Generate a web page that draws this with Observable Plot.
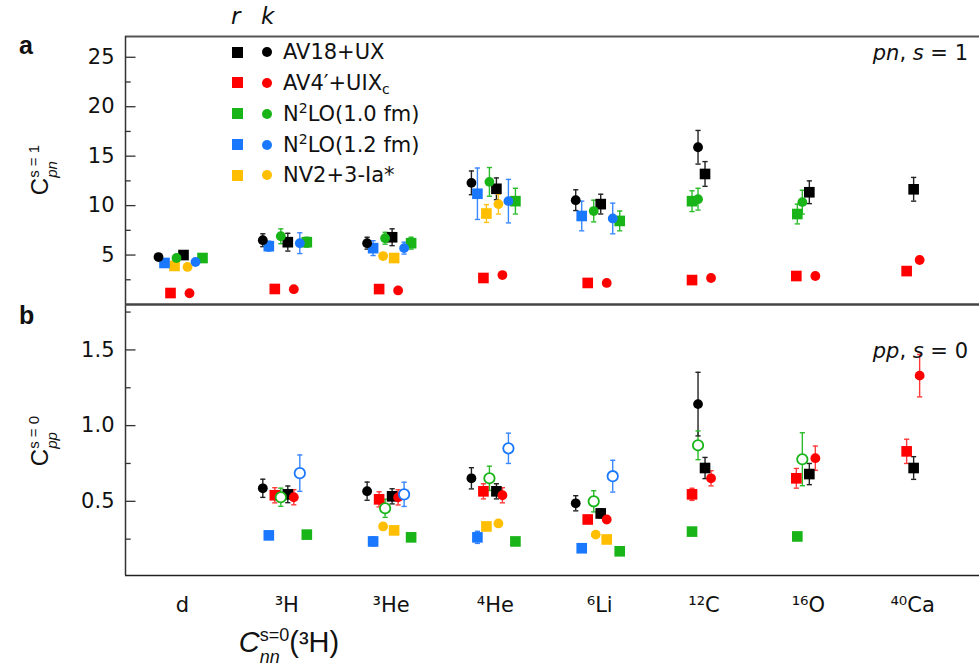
<!DOCTYPE html>
<html><head><meta charset="utf-8">
<script src="https://cdn.jsdelivr.net/npm/d3@7"></script>
<script src="https://cdn.jsdelivr.net/npm/@observablehq/plot@0.6"></script>
<style>
body{margin:0;background:#fff;}
#fig{position:relative;width:979px;height:669px;overflow:hidden;font-family:"DejaVu Sans","Liberation Sans",Arial,sans-serif;color:#111;background:#fff;}
#fig svg{position:absolute;left:0;}
.abs{position:absolute;white-space:nowrap;line-height:1;}
.panel{font-weight:bold;font-size:25px;font-family:"Liberation Sans",Arial,sans-serif;}
.hdr{font-style:italic;font-size:23px;}
.leg{font-size:21px;}
.leg sub{font-size:14px;vertical-align:-4px;line-height:0;}
.leg sup{font-size:14px;vertical-align:8px;line-height:0;}
.sq{position:absolute;width:11px;height:11px;}
.ci{position:absolute;width:10px;height:10px;border-radius:50%;}
.ylab{font-size:24px;font-family:"Liberation Sans",Arial,sans-serif;transform:translate(-50%,-50%) rotate(-90deg);}
.stk{position:relative;display:inline-block;}
.stk .sp{position:relative;top:-9px;font-size:15px;}
.stk .sb{position:absolute;left:0;top:16px;font-size:15px;font-style:italic;}
.cap{font-size:29px;transform:translate(-50%,-50%);font-family:"Liberation Sans",Arial,sans-serif;}
.cap .stk .sp{font-size:18px;top:-11px;}
.cap .stk .sb{font-size:18px;top:20px;}
.note{font-size:21px;}
</style></head><body><div id="fig"></div><script>
// ---------------- data ----------------
const nuclei = ["d", "³H", "³He", "⁴He", "⁶Li", "¹²C", "¹⁶O", "⁴⁰Ca"];
const seriesKeys = ["AV18", "AV4", "N10", "N12", "NV2"];
const legendLabels = ["AV18+UX", "AV4′+UIX<sub>c</sub>", "N<sup>2</sup>LO(1.0 fm)", "N<sup>2</sup>LO(1.2 fm)", "NV2+3-Ia*"];
const pnTicks = [5, 10, 15, 20, 25];
const pnMinor = [2.5, 7.5, 12.5, 17.5, 22.5];
const ppTicks = [0.5, 1.0, 1.5];
const ppMinor = [0.25, 0.75, 1.25, 1.75];

// Panel a: C_pn^{s=1}   (r = square, k = circle)
const pnAV18r = [5.0, 6.3, 6.8, 11.7, 10.15, 13.2, 11.35, 11.65];
const pnAV18rErr = [0, 0.9, 0.85, 1.1, 1.0, 1.25, 1.15, 1.2];
const pnAV18k = [4.8, 6.5, 6.2, 12.3, 10.55, 15.9, null, null];
const pnAV18kErr = [0, 0.65, 0.6, 1.2, 1.05, 1.7, 0, 0];
const pnAV4r = [1.16, 1.57, 1.56, 2.68, 2.18, 2.47, 2.88, 3.38];
const pnAV4k = [1.14, 1.55, 1.42, 2.98, 2.18, 2.68, 2.88, 4.5];
const pnN10r = [4.7, 6.3, 6.2, 10.45, 8.45, 10.45, 9.15, null];
const pnN10rErr = [0, 0.5, 0.6, 1.3, 1.0, 1.05, 1.0, 0];
const pnN10k = [4.7, 6.9, 6.7, 12.4, 9.45, 10.65, 10.35, null];
const pnN10kErr = [0, 0.75, 0.6, 1.45, 1.1, 1.1, 1.2, 0];
const pnN12r = [4.2, 5.9, 5.7, 11.2, 8.95, null, null, null];
const pnN12rErr = [0, 0.5, 0.75, 2.6, 1.5, 0, 0, 0];
const pnN12k = [4.3, 6.2, 5.7, 10.45, 8.7, null, null, null];
const pnN12kErr = [0, 1.05, 0.6, 2.2, 1.55, 0, 0, 0];
const pnNV2r = [3.9, null, 4.7, 9.2, null, null, null, null];
const pnNV2rErr = [0, 0, 0, 0.9, 0, 0, 0, 0];
const pnNV2k = [3.8, null, 4.9, 10.15, null, null, null, null];
const pnNV2kErr = [0, 0, 0, 1.0, 0, 0, 0, 0];

// Panel b: C_pp^{s=0}  (open circles for N2LO k)
const ppAV18r = [null, 0.546, 0.533, 0.566, 0.42, 0.72, 0.68, 0.72];
const ppAV18rErr = [0, 0.055, 0.05, 0.05, 0.03, 0.07, 0.07, 0.075];
const ppAV18k = [null, 0.586, 0.567, 0.652, 0.487, 1.142, null, null];
const ppAV18kErr = [0, 0.06, 0.06, 0.07, 0.05, 0.21, 0, 0];
const ppAV4r = [null, 0.54, 0.513, 0.566, 0.38, 0.546, 0.652, 0.83];
const ppAV4rErr = [0, 0.05, 0.05, 0.05, 0.02, 0.04, 0.065, 0.08];
const ppAV4k = [null, 0.527, 0.526, 0.54, 0.38, 0.652, 0.785, 1.33];
const ppAV4kErr = [0, 0.05, 0.05, 0.05, 0.02, 0.05, 0.08, 0.14];
const ppN10r = [null, 0.28, 0.262, 0.235, 0.17, 0.30, 0.268, null];
const ppN10k = [null, 0.527, 0.454, 0.652, 0.50, 0.87, 0.778, null];
const ppN10kErr = [0, 0.06, 0.06, 0.08, 0.07, 0.095, 0.175, 0];
const ppN12r = [null, 0.275, 0.235, 0.262, 0.19, null, null, null];
const ppN12rErr = [0, 0, 0.03, 0.04, 0, 0, 0, 0];
const ppN12k = [null, 0.686, 0.546, 0.85, 0.666, null, null, null];
const ppN12kErr = [0, 0.12, 0.08, 0.10, 0.105, 0, 0, 0];
const ppNV2r = [null, null, 0.308, 0.334, 0.248, null, null, null];
const ppNV2k = [null, null, 0.334, 0.354, 0.28, null, null, null];
const ppNV2kErr = [0, 0, 0.02, 0.02, 0, 0, 0, 0];

// ---------------- styles / layout ----------------
const COLORS = {AV18: "#000000", AV4: "#ff0000", N10: "#18b418", N12: "#1a78ff", NV2: "#ffbf00"};
const BAR_COLORS = {AV18: "#222222", AV4: "#ff3a3a", N10: "#2cbc2c", N12: "#3a88ff", NV2: "#ffc21a"};
const W = 979, ML = 125;
const xDomain = [-0.5465, 7.641];
const SPACING = (W - ML) / (xDomain[1] - xDomain[0]);
// horizontal dodge (px) of each series within a nucleus group
const dodgeDefault = {AV18r: 1, AV18k: -24, AV4r: -12, AV4k: 7, N10r: 20, N10k: -6, N12r: -18, N12k: 13, NV2r: -8, NV2k: 5};
const dodgeOverride = {AV18k: {5: -6}, N10r: {5: -12, 6: -11}, AV4r: {7: -6}, NV2r: {2: 3, 3: -9, 4: 7}, NV2k: {2: -8, 3: 3, 4: -4}};

const capSym = {draw(ctx, size) { const r = Math.sqrt(size / Math.PI); ctx.moveTo(-r, 0); ctx.lineTo(r, 0); }};
const tickSym = {draw(ctx, size) { const r = Math.sqrt(size / Math.PI); ctx.moveTo(0, 0); ctx.lineTo(2 * r, 0); }};

function buildRows(spec) {
  const rows = [];
  for (const s of spec) {
    s.vals.forEach((v, i) => {
      if (v == null) return;
      const key = s.series + s.type;
      const ov = dodgeOverride[key] && dodgeOverride[key][i];
      const off = ov != null ? ov : dodgeDefault[key];
      rows.push({i, x: i + off / SPACING, v, e: s.errs ? (s.errs[i] || 0) : 0,
                 color: COLORS[s.series], bar: BAR_COLORS[s.series], type: s.type, open: !!s.open});
    });
  }
  return rows;
}

const pnRows = buildRows([
  {series: "AV4", type: "r", vals: pnAV4r}, {series: "AV4", type: "k", vals: pnAV4k},
  {series: "NV2", type: "r", vals: pnNV2r, errs: pnNV2rErr}, {series: "NV2", type: "k", vals: pnNV2k, errs: pnNV2kErr},
  {series: "N12", type: "r", vals: pnN12r, errs: pnN12rErr}, {series: "N12", type: "k", vals: pnN12k, errs: pnN12kErr},
  {series: "N10", type: "r", vals: pnN10r, errs: pnN10rErr}, {series: "N10", type: "k", vals: pnN10k, errs: pnN10kErr},
  {series: "AV18", type: "k", vals: pnAV18k, errs: pnAV18kErr}, {series: "AV18", type: "r", vals: pnAV18r, errs: pnAV18rErr}
]);
const ppRows = buildRows([
  {series: "NV2", type: "r", vals: ppNV2r}, {series: "NV2", type: "k", vals: ppNV2k, errs: ppNV2kErr},
  {series: "N12", type: "r", vals: ppN12r, errs: ppN12rErr}, {series: "N10", type: "r", vals: ppN10r},
  {series: "N12", type: "k", vals: ppN12k, errs: ppN12kErr, open: true},
  {series: "N10", type: "k", vals: ppN10k, errs: ppN10kErr, open: true},
  {series: "AV4", type: "r", vals: ppAV4r, errs: ppAV4rErr}, {series: "AV4", type: "k", vals: ppAV4k, errs: ppAV4kErr},
  {series: "AV18", type: "k", vals: ppAV18k, errs: ppAV18kErr}, {series: "AV18", type: "r", vals: ppAV18r, errs: ppAV18rErr}
]);

function dataMarks(rows) {
  const eb = rows.filter(d => d.e > 0);
  return [
    Plot.ruleX(eb, {x: "x", y1: d => d.v - d.e, y2: d => d.v + d.e, stroke: d => d.bar, strokeWidth: 1.4}),
    Plot.dot(eb, {x: "x", y: d => d.v - d.e, symbol: capSym, r: 2.6, fill: "none", stroke: d => d.bar, strokeWidth: 1.4}),
    Plot.dot(eb, {x: "x", y: d => d.v + d.e, symbol: capSym, r: 2.6, fill: "none", stroke: d => d.bar, strokeWidth: 1.4}),
    Plot.dot(rows, {filter: d => d.type === "r", x: "x", y: "v", symbol: "square", r: 6, fill: d => d.color}),
    Plot.dot(rows, {filter: d => d.type === "k" && !d.open, x: "x", y: "v", r: 4.9, fill: d => d.color}),
    Plot.dot(rows, {filter: d => d.open, x: "x", y: "v", r: 5.2, fill: "white", stroke: d => d.color, strokeWidth: 1.8})
  ];
}

function axisMarks(major, minor, fmt) {
  return [
    Plot.dot(major, {x: () => xDomain[0], y: d => d, symbol: tickSym, r: 5, fill: "none", stroke: "#333", strokeWidth: 1.3}),
    Plot.dot(minor, {x: () => xDomain[0], y: d => d, symbol: tickSym, r: 2.6, fill: "none", stroke: "#333", strokeWidth: 1.3}),
    Plot.axisY({ticks: major, tickSize: 0, tickPadding: 11, tickFormat: fmt, label: null, fontSize: 21, fill: "#111"})
  ];
}

const svgStyle = {overflow: "visible", background: "none", fontFamily: "'DejaVu Sans', 'Liberation Sans', Arial, sans-serif", fontSize: "21px", color: "#111"};

const plotA = Plot.plot({
  width: W, height: 268, marginLeft: ML, marginRight: 0, marginTop: 0, marginBottom: 0,
  style: svgStyle,
  x: {domain: xDomain, axis: null},
  y: {domain: [0, 27.1]},
  color: {type: "identity"},
  marks: [
    ...axisMarks(pnTicks, pnMinor, d => String(d)),
    Plot.ruleY([27.1], {stroke: "#555", strokeWidth: 2}),
    Plot.ruleX([xDomain[0]], {stroke: "#333", strokeWidth: 1.5}),
    ...dataMarks(pnRows),
    Plot.ruleY([0], {stroke: "#444", strokeWidth: 2.6})
  ]
});
plotA.style.top = "36px";

const plotB = Plot.plot({
  width: W, height: 321, marginLeft: ML, marginRight: 0, marginTop: 0, marginBottom: 50,
  style: svgStyle,
  x: {domain: xDomain},
  y: {domain: [0.01, 1.8]},
  color: {type: "identity"},
  marks: [
    ...axisMarks(ppTicks, ppMinor, d => d.toFixed(1)),
    Plot.ruleX([xDomain[0]], {stroke: "#333", strokeWidth: 1.5}),
    Plot.ruleY([0.01], {stroke: "#222", strokeWidth: 1.5}),
    ...dataMarks(ppRows),
    Plot.axisX(d3.range(nuclei.length), {tickFormat: i => nuclei[i], tickSize: 0, tickPadding: 22, fontSize: 21, fill: "#111", label: null})
  ]
});
plotB.style.top = "304px";

const fig = document.getElementById("fig");
fig.appendChild(plotB);
fig.appendChild(plotA);

function add(html, cls, left, top) {
  const d = document.createElement("div");
  d.className = "abs " + cls;
  d.style.left = left + "px"; d.style.top = top + "px";
  d.innerHTML = html;
  fig.appendChild(d);
  return d;
}
add("a", "panel", 19, 33);
add("b", "panel", 19, 303);
add("r", "hdr", 231, 5);
add("k", "hdr", 261, 5);
const rowY = [52, 82.5, 113.5, 144.5, 175];
seriesKeys.forEach((k, j) => {
  const sq = document.createElement("div"); sq.className = "sq";
  sq.style.background = COLORS[k]; sq.style.left = "231.5px"; sq.style.top = (rowY[j] - 5.5) + "px"; fig.appendChild(sq);
  const ci = document.createElement("div"); ci.className = "ci";
  ci.style.background = COLORS[k]; ci.style.left = "262px"; ci.style.top = (rowY[j] - 5) + "px"; fig.appendChild(ci);
  add(legendLabels[j], "leg", 283, rowY[j] - 10);
});
const n1 = add("<i>pn</i>, <i>s</i> = 1", "note", 0, 43); n1.style.left = "auto"; n1.style.right = "11px";
const n2 = add("<i>pp</i>, <i>s</i> = 0", "note", 0, 341); n2.style.left = "auto"; n2.style.right = "11px";
add('C<span class="stk"><span class="sp">s = 1</span><span class="sb">pn</span></span>', "ylab", 40, 170);
add('C<span class="stk"><span class="sp">s = 0</span><span class="sb">pp</span></span>', "ylab", 40, 441);
add('<i>C</i><span class="stk"><span class="sp">s=0</span><span class="sb">nn</span></span>(³H)', "cap", 289, 642);
</script></body></html>
